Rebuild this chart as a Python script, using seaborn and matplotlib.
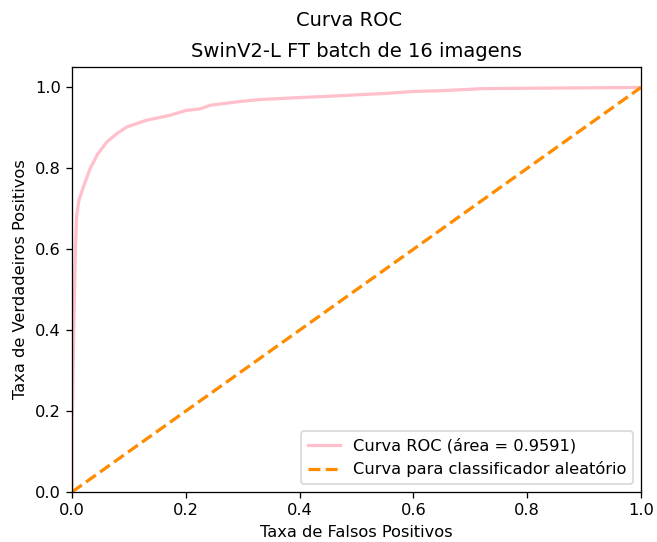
import matplotlib
matplotlib.use("Agg")
import matplotlib.pyplot as plt
import seaborn as sns
import pandas as pd

# valores lidos da curva ROC (aproximados)
fpr = [0.0, 0.0, 0.001, 0.003, 0.006, 0.008, 0.012, 0.02, 0.032, 0.045, 0.061, 0.08, 0.096,
       0.131, 0.172, 0.20, 0.225, 0.243, 0.30, 0.33, 0.40, 0.45, 0.518, 0.55, 0.60,
       0.65, 0.722, 0.80, 0.90, 1.0]
tpr = [0.0, 0.18, 0.22, 0.40, 0.60, 0.68, 0.72, 0.754, 0.80, 0.835, 0.865, 0.887, 0.902,
       0.919, 0.931, 0.943, 0.947, 0.956, 0.966, 0.970, 0.975, 0.978, 0.983, 0.985, 0.990,
       0.992, 0.997, 0.998, 0.999, 1.0]
roc_auc = 0.9591
diag = [0.0, 1.0]

roc_df = pd.DataFrame({"fpr": fpr, "tpr": tpr})
diag_df = pd.DataFrame({"x": diag, "y": diag})

dpi = 116.7
fig, ax = plt.subplots(figsize=(657 / dpi, 542 / dpi), dpi=dpi)
fig.subplots_adjust(left=0.1096, right=0.9756, top=0.876, bottom=0.0923)

sns.lineplot(data=roc_df, x="fpr", y="tpr", color="pink", lw=2,
             label=f"Curva ROC (área = {roc_auc:.4f})", sort=False, estimator=None, ax=ax)
sns.lineplot(data=diag_df, x="x", y="y", color="darkorange", lw=2, linestyle="--",
             label="Curva para classificador aleatório", ax=ax)

ax.set_xlim([0.0, 1.0])
ax.set_ylim([0.0, 1.05])
ax.set_xlabel("Taxa de Falsos Positivos")
ax.set_ylabel("Taxa de Verdadeiros Positivos")
fig.suptitle("Curva ROC", fontsize=12, x=0.531, y=0.979)
ax.set_title("SwinV2-L FT batch de 16 imagens", fontsize=12)
ax.legend(loc="lower right")

plt.savefig("out.png", dpi=dpi)
